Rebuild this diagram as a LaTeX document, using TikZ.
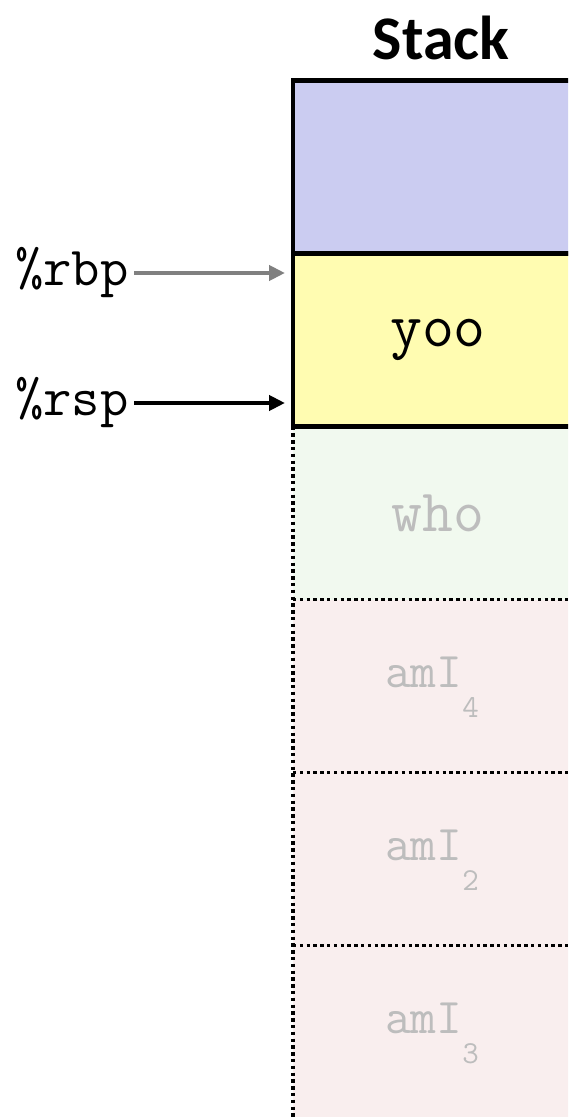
\documentclass[tikz,border=0pt]{standalone}
\usepackage{fontspec}
\newfontfamily\titlefont{Carlito}
\usetikzlibrary{arrows.meta,positioning}
\definecolor{callee}{HTML}{CBCCF1}
\definecolor{frame}{HTML}{FFFCB1}
\definecolor{gone}{HTML}{F1F9EF}
\definecolor{older}{HTML}{F9EEEE}
\definecolor{ghost}{HTML}{BDBDBD}
\definecolor{regarr}{HTML}{808080}
\newcommand{\lowsub}[1]{\smash{\raisebox{-15pt}{\fontsize{16}{16}\selectfont#1}}\kern6pt}
\tikzset{
  >={Triangle[length=8pt,width=7.5pt]},
  cell/.style={minimum width=145pt,minimum height=86.5pt,inner sep=0pt,outer sep=0pt,font=\fontsize{25}{25}\ttfamily},
  livecell/.style={cell,draw=black,line width=2.3pt,font=\fontsize{31}{31}\ttfamily},
  deadcell/.style={cell,text=ghost},
  subcell/.style={deadcell,text depth=14pt},
  dots/.style={line width=1.7pt,dash pattern=on 1.7pt off 1.7pt},
  reg/.style={font=\fontsize{27.5}{27.5}\ttfamily,inner sep=0pt,anchor=east},
  regline/.style={->,line width=2pt,shorten >=4pt},
}

\begin{document}
\begin{tikzpicture}[x=0.5pt,y=-0.5pt]
  \clip (0,0) rectangle (568,1117);

  \node[font=\titlefont\bfseries\fontsize{31}{31}\selectfont] (title) at (441,38) {Stack};

  % dead frames below the stack pointer
  \node[deadcell,fill=gone,font=\fontsize{30}{30}\ttfamily] (who) at (438,513) {who};
  \node[subcell,fill=older,below=0pt of who] (amIfour) {amI\lowsub{4}};
  \node[subcell,fill=older,below=0pt of amIfour] (amItwo) {amI\lowsub{2}};
  \node[subcell,fill=older,below=0pt of amItwo] (amIthree) {amI\lowsub{3}};
  \draw[dots] (who.north west) -- (amIthree.south west);
  \draw[dots] (amIfour.north west) -- (amIfour.north east);
  \draw[dots] (amItwo.north west) -- (amItwo.north east);
  \draw[dots] (amIthree.north west) -- (amIthree.north east);

  % live frames
  \node[livecell,fill=frame,above=0pt of who] (yoo) {yoo};
  \node[livecell,fill=callee,above=0pt of yoo] (top) {};

  % registers
  \node[reg] (rbp) at (129,273) {\%rbp};
  \node[reg] (rsp) at (129,403) {\%rsp};
  \draw[regline,draw=regarr] (rbp.east) ++(5,0) -- (rbp.east -| yoo.west);
  \draw[regline] (rsp.east) ++(5,0) -- (rsp.east -| yoo.west);
\end{tikzpicture}
\end{document}
